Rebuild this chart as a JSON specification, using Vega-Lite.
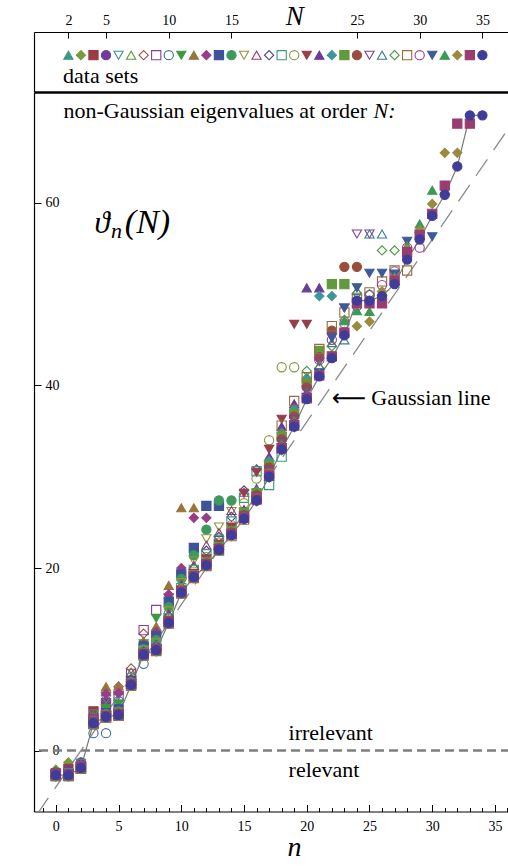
{
"$schema":"https://vega.github.io/schema/vega-lite/v6.json",
"background":"white",
"padding":{"left":32,"top":2,"right":0,"bottom":0},
"spacing":0,
"config":{"view":{"stroke":null},"axis":{"grid":false,"domainColor":"#000","tickColor":"#000","labelColor":"#000","titleColor":"#000","labelFont":"Liberation Serif","titleFont":"Liberation Serif","titleFontWeight":"normal","domainWidth":1.2,"tickWidth":1},"text":{"font":"Liberation Serif","color":"#000"}},
"datasets":{
"gauss":[{"n":-1.5,"v":-7},{"n":37,"v":70}],
"pts":[
{"N":2,"n":0,"v":-2.4},{"N":2,"n":1,"v":-2.4},
{"N":3,"n":0,"v":-2.1},{"N":3,"n":1,"v":-1.3},{"N":3,"n":2,"v":-1.3},
{"N":4,"n":0,"v":-2.5},{"N":4,"n":1,"v":-2.0},{"N":4,"n":2,"v":-2.0},{"N":4,"n":3,"v":4.3},
{"N":5,"n":0,"v":-2.4},{"N":5,"n":1,"v":-2.2},{"N":5,"n":2,"v":-1.3},{"N":5,"n":3,"v":3.6},{"N":5,"n":4,"v":5.3},
{"N":6,"n":0,"v":-2.5},{"N":6,"n":1,"v":-2.4},{"N":6,"n":2,"v":-1.4},{"N":6,"n":3,"v":4.0},{"N":6,"n":4,"v":5.6},{"N":6,"n":5,"v":6.0},
{"N":7,"n":0,"v":-2.5},{"N":7,"n":1,"v":-2.5},{"N":7,"n":2,"v":-1.5},{"N":7,"n":3,"v":3.8},{"N":7,"n":4,"v":6.8},{"N":7,"n":5,"v":6.6},{"N":7,"n":6,"v":8.6},
{"N":8,"n":0,"v":-2.6},{"N":8,"n":1,"v":-2.5},{"N":8,"n":2,"v":-1.6},{"N":8,"n":3,"v":3.6},{"N":8,"n":4,"v":5.5},{"N":8,"n":5,"v":7.0},{"N":8,"n":6,"v":9.0},{"N":8,"n":7,"v":12.8},
{"N":9,"n":0,"v":-2.6},{"N":9,"n":1,"v":-2.6},{"N":9,"n":2,"v":-1.7},{"N":9,"n":3,"v":3.4},{"N":9,"n":4,"v":5.2},{"N":9,"n":5,"v":6.0},{"N":9,"n":6,"v":8.4},{"N":9,"n":7,"v":13.2},{"N":9,"n":8,"v":15.4},
{"N":10,"n":0,"v":-2.6},{"N":10,"n":1,"v":-2.6},{"N":10,"n":2,"v":-1.8},{"N":10,"n":3,"v":1.9},{"N":10,"n":4,"v":1.9},{"N":10,"n":5,"v":5.4},{"N":10,"n":6,"v":8.0},{"N":10,"n":7,"v":9.5},{"N":10,"n":8,"v":13.0},{"N":10,"n":9,"v":15.0},
{"N":11,"n":0,"v":-2.7},{"N":11,"n":1,"v":-2.6},{"N":11,"n":2,"v":-1.8},{"N":11,"n":3,"v":3.2},{"N":11,"n":4,"v":4.6},{"N":11,"n":5,"v":5.1},{"N":11,"n":6,"v":7.7},{"N":11,"n":7,"v":11.7},{"N":11,"n":8,"v":14.5},{"N":11,"n":9,"v":16.7},{"N":11,"n":10,"v":18.5},
{"N":12,"n":0,"v":-2.7},{"N":12,"n":1,"v":-2.6},{"N":12,"n":2,"v":-1.8},{"N":12,"n":3,"v":3.2},{"N":12,"n":4,"v":7.0},{"N":12,"n":5,"v":7.1},{"N":12,"n":6,"v":8.0},{"N":12,"n":7,"v":12.0},{"N":12,"n":8,"v":13.6},{"N":12,"n":9,"v":18.1},{"N":12,"n":10,"v":26.6},{"N":12,"n":11,"v":26.6},
{"N":13,"n":0,"v":-2.7},{"N":13,"n":1,"v":-2.7},{"N":13,"n":2,"v":-1.8},{"N":13,"n":3,"v":3.1},{"N":13,"n":4,"v":6.2},{"N":13,"n":5,"v":6.3},{"N":13,"n":6,"v":7.8},{"N":13,"n":7,"v":11.6},{"N":13,"n":8,"v":13.0},{"N":13,"n":9,"v":17.1},{"N":13,"n":10,"v":20.0},{"N":13,"n":11,"v":25.5},{"N":13,"n":12,"v":25.5},
{"N":14,"n":0,"v":-2.6},{"N":14,"n":1,"v":-2.7},{"N":14,"n":2,"v":-1.9},{"N":14,"n":3,"v":3.1},{"N":14,"n":4,"v":4.1},{"N":14,"n":5,"v":4.5},{"N":14,"n":6,"v":7.6},{"N":14,"n":7,"v":11.4},{"N":14,"n":8,"v":12.5},{"N":14,"n":9,"v":16.3},{"N":14,"n":10,"v":19.3},{"N":14,"n":11,"v":22.2},{"N":14,"n":12,"v":26.8},{"N":14,"n":13,"v":26.8},
{"N":15,"n":0,"v":-2.8},{"N":15,"n":1,"v":-2.8},{"N":15,"n":2,"v":-1.9},{"N":15,"n":3,"v":3.1},{"N":15,"n":4,"v":4.0},{"N":15,"n":5,"v":4.3},{"N":15,"n":6,"v":7.5},{"N":15,"n":7,"v":11.1},{"N":15,"n":8,"v":12.1},{"N":15,"n":9,"v":15.7},{"N":15,"n":10,"v":18.8},{"N":15,"n":11,"v":21.4},{"N":15,"n":12,"v":24.2},{"N":15,"n":13,"v":27.4},{"N":15,"n":14,"v":27.4},
{"N":16,"n":0,"v":-2.6},{"N":16,"n":1,"v":-2.6},{"N":16,"n":2,"v":-1.8},{"N":16,"n":3,"v":3.0},{"N":16,"n":4,"v":3.9},{"N":16,"n":5,"v":4.2},{"N":16,"n":6,"v":7.4},{"N":16,"n":7,"v":11.0},{"N":16,"n":8,"v":11.8},{"N":16,"n":9,"v":15.3},{"N":16,"n":10,"v":18.4},{"N":16,"n":11,"v":20.8},{"N":16,"n":12,"v":23.2},{"N":16,"n":13,"v":24.5},{"N":16,"n":14,"v":26.2},{"N":16,"n":15,"v":26.2},
{"N":17,"n":0,"v":-2.8},{"N":17,"n":1,"v":-2.8},{"N":17,"n":2,"v":-2.0},{"N":17,"n":3,"v":2.9},{"N":17,"n":4,"v":3.9},{"N":17,"n":5,"v":4.1},{"N":17,"n":6,"v":7.4},{"N":17,"n":7,"v":10.9},{"N":17,"n":8,"v":11.6},{"N":17,"n":9,"v":15.0},{"N":17,"n":10,"v":18.2},{"N":17,"n":11,"v":20.3},{"N":17,"n":12,"v":22.5},{"N":17,"n":13,"v":23.9},{"N":17,"n":14,"v":26.3},{"N":17,"n":15,"v":28.3},{"N":17,"n":16,"v":28.3},
{"N":18,"n":0,"v":-2.6},{"N":18,"n":1,"v":-2.6},{"N":18,"n":2,"v":-1.8},{"N":18,"n":3,"v":3.1},{"N":18,"n":4,"v":3.8},{"N":18,"n":5,"v":4.1},{"N":18,"n":6,"v":7.3},{"N":18,"n":7,"v":10.8},{"N":18,"n":8,"v":11.5},{"N":18,"n":9,"v":14.7},{"N":18,"n":10,"v":17.9},{"N":18,"n":11,"v":20.0},{"N":18,"n":12,"v":21.9},{"N":18,"n":13,"v":23.4},{"N":18,"n":14,"v":25.6},{"N":18,"n":15,"v":28.5},{"N":18,"n":16,"v":30.8},{"N":18,"n":17,"v":30.8},
{"N":19,"n":0,"v":-2.8},{"N":19,"n":1,"v":-2.8},{"N":19,"n":2,"v":-2.0},{"N":19,"n":3,"v":2.9},{"N":19,"n":4,"v":3.6},{"N":19,"n":5,"v":3.8},{"N":19,"n":6,"v":7.3},{"N":19,"n":7,"v":10.7},{"N":19,"n":8,"v":11.4},{"N":19,"n":9,"v":14.5},{"N":19,"n":10,"v":17.8},{"N":19,"n":11,"v":19.8},{"N":19,"n":12,"v":21.5},{"N":19,"n":13,"v":23.1},{"N":19,"n":14,"v":25.1},{"N":19,"n":15,"v":27.7},{"N":19,"n":16,"v":30.6},{"N":19,"n":17,"v":29.1},{"N":19,"n":18,"v":32.2},
{"N":20,"n":0,"v":-2.6},{"N":20,"n":1,"v":-2.6},{"N":20,"n":2,"v":-1.8},{"N":20,"n":3,"v":3.1},{"N":20,"n":4,"v":3.8},{"N":20,"n":5,"v":4.0},{"N":20,"n":6,"v":7.3},{"N":20,"n":7,"v":10.6},{"N":20,"n":8,"v":11.2},{"N":20,"n":9,"v":14.4},{"N":20,"n":10,"v":17.7},{"N":20,"n":11,"v":19.6},{"N":20,"n":12,"v":21.2},{"N":20,"n":13,"v":22.8},{"N":20,"n":14,"v":24.7},{"N":20,"n":15,"v":27.1},{"N":20,"n":16,"v":29.8},{"N":20,"n":17,"v":34.0},{"N":20,"n":18,"v":42.0},{"N":20,"n":19,"v":42.0},
{"N":21,"n":0,"v":-2.8},{"N":21,"n":1,"v":-2.8},{"N":21,"n":2,"v":-2.0},{"N":21,"n":3,"v":2.9},{"N":21,"n":4,"v":3.6},{"N":21,"n":5,"v":3.8},{"N":21,"n":6,"v":7.1},{"N":21,"n":7,"v":10.4},{"N":21,"n":8,"v":11.2},{"N":21,"n":9,"v":14.3},{"N":21,"n":10,"v":17.6},{"N":21,"n":11,"v":19.4},{"N":21,"n":12,"v":21.0},{"N":21,"n":13,"v":22.6},{"N":21,"n":14,"v":24.5},{"N":21,"n":15,"v":28.2},{"N":21,"n":16,"v":30.5},{"N":21,"n":17,"v":33.0},{"N":21,"n":18,"v":36.3},{"N":21,"n":19,"v":46.7},{"N":21,"n":20,"v":46.7},
{"N":22,"n":0,"v":-2.6},{"N":22,"n":1,"v":-2.6},{"N":22,"n":2,"v":-1.8},{"N":22,"n":3,"v":3.1},{"N":22,"n":4,"v":3.8},{"N":22,"n":5,"v":4.0},{"N":22,"n":6,"v":7.3},{"N":22,"n":7,"v":10.6},{"N":22,"n":8,"v":11.1},{"N":22,"n":9,"v":14.2},{"N":22,"n":10,"v":17.5},{"N":22,"n":11,"v":19.3},{"N":22,"n":12,"v":20.8},{"N":22,"n":13,"v":22.5},{"N":22,"n":14,"v":24.2},{"N":22,"n":15,"v":26.4},{"N":22,"n":16,"v":28.7},{"N":22,"n":17,"v":32.2},{"N":22,"n":18,"v":35.5},{"N":22,"n":19,"v":38.0},{"N":22,"n":20,"v":50.7},{"N":22,"n":21,"v":50.7},
{"N":23,"n":0,"v":-2.8},{"N":23,"n":1,"v":-2.8},{"N":23,"n":2,"v":-2.0},{"N":23,"n":3,"v":2.9},{"N":23,"n":4,"v":3.6},{"N":23,"n":5,"v":3.8},{"N":23,"n":6,"v":7.1},{"N":23,"n":7,"v":10.4},{"N":23,"n":8,"v":10.9},{"N":23,"n":9,"v":13.9},{"N":23,"n":10,"v":17.4},{"N":23,"n":11,"v":19.2},{"N":23,"n":12,"v":20.7},{"N":23,"n":13,"v":22.3},{"N":23,"n":14,"v":24.1},{"N":23,"n":15,"v":26.1},{"N":23,"n":16,"v":28.4},{"N":23,"n":17,"v":31.7},{"N":23,"n":18,"v":34.8},{"N":23,"n":19,"v":37.4},{"N":23,"n":20,"v":40.8},{"N":23,"n":21,"v":49.8},{"N":23,"n":22,"v":49.8},
{"N":24,"n":0,"v":-2.6},{"N":24,"n":1,"v":-2.6},{"N":24,"n":2,"v":-1.8},{"N":24,"n":3,"v":3.1},{"N":24,"n":4,"v":3.8},{"N":24,"n":5,"v":4.0},{"N":24,"n":6,"v":7.3},{"N":24,"n":7,"v":10.6},{"N":24,"n":8,"v":11.1},{"N":24,"n":9,"v":14.1},{"N":24,"n":10,"v":17.4},{"N":24,"n":11,"v":19.2},{"N":24,"n":12,"v":20.6},{"N":24,"n":13,"v":22.3},{"N":24,"n":14,"v":24.0},{"N":24,"n":15,"v":26.0},{"N":24,"n":16,"v":28.2},{"N":24,"n":17,"v":31.3},{"N":24,"n":18,"v":34.4},{"N":24,"n":19,"v":36.9},{"N":24,"n":20,"v":40.2},{"N":24,"n":21,"v":43.8},{"N":24,"n":22,"v":51.1},{"N":24,"n":23,"v":51.1},
{"N":25,"n":0,"v":-2.8},{"N":25,"n":1,"v":-2.8},{"N":25,"n":2,"v":-2.0},{"N":25,"n":3,"v":2.9},{"N":25,"n":4,"v":3.6},{"N":25,"n":5,"v":3.8},{"N":25,"n":6,"v":7.1},{"N":25,"n":7,"v":10.4},{"N":25,"n":8,"v":10.9},{"N":25,"n":9,"v":13.9},{"N":25,"n":10,"v":17.2},{"N":25,"n":11,"v":18.9},{"N":25,"n":12,"v":20.5},{"N":25,"n":13,"v":22.2},{"N":25,"n":14,"v":23.9},{"N":25,"n":15,"v":25.8},{"N":25,"n":16,"v":28.0},{"N":25,"n":17,"v":31.0},{"N":25,"n":18,"v":34.1},{"N":25,"n":19,"v":36.6},{"N":25,"n":20,"v":39.8},{"N":25,"n":21,"v":43.1},{"N":25,"n":22,"v":46.0},{"N":25,"n":23,"v":53.0},{"N":25,"n":24,"v":53.0},
{"N":26,"n":0,"v":-2.6},{"N":26,"n":1,"v":-2.6},{"N":26,"n":2,"v":-1.8},{"N":26,"n":3,"v":3.1},{"N":26,"n":4,"v":3.8},{"N":26,"n":5,"v":4.0},{"N":26,"n":6,"v":7.3},{"N":26,"n":7,"v":10.6},{"N":26,"n":8,"v":11.1},{"N":26,"n":9,"v":14.1},{"N":26,"n":10,"v":17.4},{"N":26,"n":11,"v":19.1},{"N":26,"n":12,"v":20.4},{"N":26,"n":13,"v":22.1},{"N":26,"n":14,"v":23.8},{"N":26,"n":15,"v":25.7},{"N":26,"n":16,"v":27.8},{"N":26,"n":17,"v":30.7},{"N":26,"n":18,"v":33.8},{"N":26,"n":19,"v":36.3},{"N":26,"n":20,"v":39.5},{"N":26,"n":21,"v":42.6},{"N":26,"n":22,"v":45.3},{"N":26,"n":23,"v":48.5},{"N":26,"n":24,"v":56.6},{"N":26,"n":25,"v":56.6},
{"N":27,"n":0,"v":-2.8},{"N":27,"n":1,"v":-2.8},{"N":27,"n":2,"v":-2.0},{"N":27,"n":3,"v":2.9},{"N":27,"n":4,"v":3.6},{"N":27,"n":5,"v":3.8},{"N":27,"n":6,"v":7.1},{"N":27,"n":7,"v":10.4},{"N":27,"n":8,"v":10.9},{"N":27,"n":9,"v":13.9},{"N":27,"n":10,"v":17.2},{"N":27,"n":11,"v":18.9},{"N":27,"n":12,"v":20.2},{"N":27,"n":13,"v":21.9},{"N":27,"n":14,"v":23.7},{"N":27,"n":15,"v":25.6},{"N":27,"n":16,"v":27.7},{"N":27,"n":17,"v":30.5},{"N":27,"n":18,"v":33.6},{"N":27,"n":19,"v":36.1},{"N":27,"n":20,"v":39.2},{"N":27,"n":21,"v":42.2},{"N":27,"n":22,"v":44.7},{"N":27,"n":23,"v":45.0},{"N":27,"n":24,"v":50.4},{"N":27,"n":25,"v":56.6},{"N":27,"n":26,"v":56.6},
{"N":28,"n":0,"v":-2.6},{"N":28,"n":1,"v":-2.6},{"N":28,"n":2,"v":-1.8},{"N":28,"n":3,"v":3.1},{"N":28,"n":4,"v":3.8},{"N":28,"n":5,"v":4.0},{"N":28,"n":6,"v":7.3},{"N":28,"n":7,"v":10.6},{"N":28,"n":8,"v":11.1},{"N":28,"n":9,"v":14.1},{"N":28,"n":10,"v":17.4},{"N":28,"n":11,"v":19.1},{"N":28,"n":12,"v":20.4},{"N":28,"n":13,"v":22.1},{"N":28,"n":14,"v":23.7},{"N":28,"n":15,"v":25.6},{"N":28,"n":16,"v":27.6},{"N":28,"n":17,"v":30.4},{"N":28,"n":18,"v":33.4},{"N":28,"n":19,"v":36.0},{"N":28,"n":20,"v":41.6},{"N":28,"n":21,"v":41.9},{"N":28,"n":22,"v":44.3},{"N":28,"n":23,"v":47.2},{"N":28,"n":24,"v":50.1},{"N":28,"n":25,"v":50.0},{"N":28,"n":26,"v":54.8},{"N":28,"n":27,"v":54.8},
{"N":29,"n":0,"v":-2.8},{"N":29,"n":1,"v":-2.8},{"N":29,"n":2,"v":-2.0},{"N":29,"n":3,"v":2.9},{"N":29,"n":4,"v":3.6},{"N":29,"n":5,"v":3.8},{"N":29,"n":6,"v":7.1},{"N":29,"n":7,"v":10.4},{"N":29,"n":8,"v":10.9},{"N":29,"n":9,"v":13.9},{"N":29,"n":10,"v":17.2},{"N":29,"n":11,"v":18.9},{"N":29,"n":12,"v":20.2},{"N":29,"n":13,"v":21.9},{"N":29,"n":14,"v":23.5},{"N":29,"n":15,"v":25.3},{"N":29,"n":16,"v":27.6},{"N":29,"n":17,"v":30.3},{"N":29,"n":18,"v":35.6},{"N":29,"n":19,"v":38.3},{"N":29,"n":20,"v":40.9},{"N":29,"n":21,"v":44.0},{"N":29,"n":22,"v":46.5},{"N":29,"n":23,"v":48.0},{"N":29,"n":24,"v":49.6},{"N":29,"n":25,"v":50.2},{"N":29,"n":26,"v":51.4},{"N":29,"n":27,"v":52.6},{"N":29,"n":28,"v":52.6},
{"N":30,"n":0,"v":-2.6},{"N":30,"n":1,"v":-2.6},{"N":30,"n":2,"v":-1.8},{"N":30,"n":3,"v":3.1},{"N":30,"n":4,"v":3.8},{"N":30,"n":5,"v":4.0},{"N":30,"n":6,"v":7.3},{"N":30,"n":7,"v":10.6},{"N":30,"n":8,"v":11.1},{"N":30,"n":9,"v":14.1},{"N":30,"n":10,"v":17.4},{"N":30,"n":11,"v":19.1},{"N":30,"n":12,"v":20.4},{"N":30,"n":13,"v":22.1},{"N":30,"n":14,"v":23.7},{"N":30,"n":15,"v":25.5},{"N":30,"n":16,"v":27.5},{"N":30,"n":17,"v":30.2},{"N":30,"n":18,"v":33.2},{"N":30,"n":19,"v":35.8},{"N":30,"n":20,"v":38.8},{"N":30,"n":21,"v":42.8},{"N":30,"n":22,"v":45.0},{"N":30,"n":23,"v":46.8},{"N":30,"n":24,"v":48.7},{"N":30,"n":25,"v":49.9},{"N":30,"n":26,"v":51.0},{"N":30,"n":27,"v":52.5},{"N":30,"n":28,"v":55.1},{"N":30,"n":29,"v":55.1},
{"N":31,"n":0,"v":-2.8},{"N":31,"n":1,"v":-2.8},{"N":31,"n":2,"v":-2.0},{"N":31,"n":3,"v":2.9},{"N":31,"n":4,"v":3.6},{"N":31,"n":5,"v":3.8},{"N":31,"n":6,"v":7.1},{"N":31,"n":7,"v":10.4},{"N":31,"n":8,"v":10.9},{"N":31,"n":9,"v":13.9},{"N":31,"n":10,"v":17.2},{"N":31,"n":11,"v":18.9},{"N":31,"n":12,"v":20.2},{"N":31,"n":13,"v":21.9},{"N":31,"n":14,"v":23.5},{"N":31,"n":15,"v":25.3},{"N":31,"n":16,"v":27.3},{"N":31,"n":17,"v":29.9},{"N":31,"n":18,"v":33.2},{"N":31,"n":19,"v":35.7},{"N":31,"n":20,"v":38.7},{"N":31,"n":21,"v":41.4},{"N":31,"n":22,"v":45.2},{"N":31,"n":23,"v":48.5},{"N":31,"n":24,"v":50.7},{"N":31,"n":25,"v":52.3},{"N":31,"n":26,"v":52.3},{"N":31,"n":27,"v":52.2},{"N":31,"n":28,"v":55.8},{"N":31,"n":29,"v":56.3},{"N":31,"n":30,"v":56.3},
{"N":32,"n":0,"v":-2.6},{"N":32,"n":1,"v":-2.6},{"N":32,"n":2,"v":-1.8},{"N":32,"n":3,"v":3.1},{"N":32,"n":4,"v":3.8},{"N":32,"n":5,"v":4.0},{"N":32,"n":6,"v":7.3},{"N":32,"n":7,"v":10.6},{"N":32,"n":8,"v":11.1},{"N":32,"n":9,"v":14.1},{"N":32,"n":10,"v":17.4},{"N":32,"n":11,"v":19.1},{"N":32,"n":12,"v":20.4},{"N":32,"n":13,"v":22.1},{"N":32,"n":14,"v":23.7},{"N":32,"n":15,"v":25.5},{"N":32,"n":16,"v":27.5},{"N":32,"n":17,"v":30.1},{"N":32,"n":18,"v":33.1},{"N":32,"n":19,"v":35.6},{"N":32,"n":20,"v":38.7},{"N":32,"n":21,"v":41.3},{"N":32,"n":22,"v":43.4},{"N":32,"n":23,"v":47.1},{"N":32,"n":24,"v":48.2},{"N":32,"n":25,"v":48.1},{"N":32,"n":26,"v":50.3},{"N":32,"n":27,"v":51.9},{"N":32,"n":28,"v":55.3},{"N":32,"n":29,"v":57.7},{"N":32,"n":30,"v":61.4},{"N":32,"n":31,"v":61.4},
{"N":33,"n":0,"v":-2.8},{"N":33,"n":1,"v":-2.8},{"N":33,"n":2,"v":-2.0},{"N":33,"n":3,"v":2.9},{"N":33,"n":4,"v":3.6},{"N":33,"n":5,"v":3.8},{"N":33,"n":6,"v":7.1},{"N":33,"n":7,"v":10.4},{"N":33,"n":8,"v":10.9},{"N":33,"n":9,"v":13.9},{"N":33,"n":10,"v":17.2},{"N":33,"n":11,"v":18.9},{"N":33,"n":12,"v":20.2},{"N":33,"n":13,"v":21.9},{"N":33,"n":14,"v":23.5},{"N":33,"n":15,"v":25.3},{"N":33,"n":16,"v":27.3},{"N":33,"n":17,"v":29.9},{"N":33,"n":18,"v":32.9},{"N":33,"n":19,"v":35.4},{"N":33,"n":20,"v":38.6},{"N":33,"n":21,"v":41.2},{"N":33,"n":22,"v":43.3},{"N":33,"n":23,"v":45.9},{"N":33,"n":24,"v":46.5},{"N":33,"n":25,"v":47.0},{"N":33,"n":26,"v":50.3},{"N":33,"n":27,"v":51.7},{"N":33,"n":28,"v":54.9},{"N":33,"n":29,"v":57.0},{"N":33,"n":30,"v":59.9},{"N":33,"n":31,"v":65.5},{"N":33,"n":32,"v":65.5},
{"N":34,"n":0,"v":-2.6},{"N":34,"n":1,"v":-2.6},{"N":34,"n":2,"v":-1.8},{"N":34,"n":3,"v":3.1},{"N":34,"n":4,"v":3.8},{"N":34,"n":5,"v":4.0},{"N":34,"n":6,"v":7.3},{"N":34,"n":7,"v":10.6},{"N":34,"n":8,"v":11.1},{"N":34,"n":9,"v":14.1},{"N":34,"n":10,"v":17.4},{"N":34,"n":11,"v":19.1},{"N":34,"n":12,"v":20.4},{"N":34,"n":13,"v":22.1},{"N":34,"n":14,"v":23.7},{"N":34,"n":15,"v":25.5},{"N":34,"n":16,"v":27.5},{"N":34,"n":17,"v":30.1},{"N":34,"n":18,"v":33.1},{"N":34,"n":19,"v":35.6},{"N":34,"n":20,"v":38.6},{"N":34,"n":21,"v":41.1},{"N":34,"n":22,"v":43.2},{"N":34,"n":23,"v":45.8},{"N":34,"n":24,"v":49.0},{"N":34,"n":25,"v":49.0},{"N":34,"n":26,"v":49.0},{"N":34,"n":27,"v":51.5},{"N":34,"n":28,"v":54.6},{"N":34,"n":29,"v":56.5},{"N":34,"n":30,"v":58.8},{"N":34,"n":31,"v":61.9},{"N":34,"n":32,"v":68.7},{"N":34,"n":33,"v":68.7},
{"N":35,"n":0,"v":-2.7},{"N":35,"n":1,"v":-2.7},{"N":35,"n":2,"v":-1.9},{"N":35,"n":3,"v":3.0},{"N":35,"n":4,"v":3.7},{"N":35,"n":5,"v":3.9},{"N":35,"n":6,"v":7.2},{"N":35,"n":7,"v":10.5},{"N":35,"n":8,"v":11.0},{"N":35,"n":9,"v":14.0},{"N":35,"n":10,"v":17.3},{"N":35,"n":11,"v":19.0},{"N":35,"n":12,"v":20.3},{"N":35,"n":13,"v":22.0},{"N":35,"n":14,"v":23.6},{"N":35,"n":15,"v":25.4},{"N":35,"n":16,"v":27.4},{"N":35,"n":17,"v":30.0},{"N":35,"n":18,"v":33.0},{"N":35,"n":19,"v":35.5},{"N":35,"n":20,"v":38.5},{"N":35,"n":21,"v":41.0},{"N":35,"n":22,"v":43.0},{"N":35,"n":23,"v":45.5},{"N":35,"n":24,"v":49.3},{"N":35,"n":25,"v":49.3},{"N":35,"n":26,"v":49.8},{"N":35,"n":27,"v":51.1},{"N":35,"n":28,"v":53.8},{"N":35,"n":29,"v":56.0},{"N":35,"n":30,"v":58.6},{"N":35,"n":31,"v":60.9},{"N":35,"n":32,"v":64.0},{"N":35,"n":33,"v":69.6},{"N":35,"n":34,"v":69.6}
]},
"vconcat":[
{
"width":476,"height":59.5,
"layer":[
{"data":{"name":"pts"},"transform":[{"filter":"datum.n === 0"}],
"mark":{"type":"point","size":85,"strokeWidth":1.1,"opacity":1},
"encoding":{
"x":{"field":"N","type":"quantitative","scale":{"domain":[-0.74,37.2],"nice":false,"zero":false},
"axis":{"orient":"top","values":[2,5,10,15,20,25,30,35],"labelExpr":"datum.value === 20 ? 'N' : datum.label","labelFontSize":{"condition":{"test":"datum.value === 20","value":27},"value":14},"labelFontStyle":{"condition":{"test":"datum.value === 20","value":"italic"},"value":"normal"},"tickOpacity":{"condition":{"test":"datum.value === 20","value":0},"value":1},"tickSize":-6,"labelPadding":14,"labelBaseline":"alphabetic","labelFlush":false,"labelOverlap":false,"title":null}},
"y":{"datum":0.61,"type":"quantitative","scale":{"domain":[0,1],"nice":false},"axis":{"ticks":false,"labels":false,"title":null,"domain":true}},
"shape":{"field":"N","type":"nominal","legend":null,"scale":{"domain":[2,3,4,5,6,7,8,9,10,11,12,13,14,15,16,17,18,19,20,21,22,23,24,25,26,27,28,29,30,31,32,33,34,35],"range":["triangle-up","diamond","square","circle","triangle-down","triangle-up","diamond","square","circle","triangle-down","triangle-up","diamond","square","circle","triangle-down","triangle-up","diamond","square","circle","triangle-down","triangle-up","diamond","square","circle","triangle-down","triangle-up","diamond","square","circle","triangle-down","triangle-up","diamond","square","circle"]}},
"stroke":{"field":"N","type":"nominal","legend":null,"scale":{"domain":[2,3,4,5,6,7,8,9,10,11,12,13,14,15,16,17,18,19,20,21,22,23,24,25,26,27,28,29,30,31,32,33,34,35],"range":["#3d9984","#79993d","#993d43","#6d3d99","#3d9099","#5a993d","#99563d","#8c3d99","#3d7199","#3d993f","#99743d","#993d88","#3d5299","#3d995d","#99933d","#993d69","#473d99","#3d997c","#80993d","#993d4b","#663d99","#3d9799","#62993d","#994e3d","#843d99","#3d7899","#43993d","#996d3d","#993d90","#3d5a99","#3d9956","#998b3d","#993d71","#3f3d99"]}},
"fill":{"field":"N","type":"nominal","legend":null,"condition":{"test":"datum.N % 10 === 0 || datum.N % 10 >= 6","value":"transparent"},"scale":{"domain":[2,3,4,5,6,7,8,9,10,11,12,13,14,15,16,17,18,19,20,21,22,23,24,25,26,27,28,29,30,31,32,33,34,35],"range":["#3d9984","#79993d","#993d43","#6d3d99","#3d9099","#5a993d","#99563d","#8c3d99","#3d7199","#3d993f","#99743d","#993d88","#3d5299","#3d995d","#99933d","#993d69","#473d99","#3d997c","#80993d","#993d4b","#663d99","#3d9799","#62993d","#994e3d","#843d99","#3d7899","#43993d","#996d3d","#993d90","#3d5a99","#3d9956","#998b3d","#993d71","#3f3d99"]}}
}},
{"data":{"values":[{}]},
"mark":{"type":"text","text":"data sets","align":"left","baseline":"alphabetic","fontSize":22,"font":"Liberation Serif"},
"encoding":{"x":{"datum":1.58,"type":"quantitative"},"y":{"datum":0.14,"type":"quantitative"}}}
]
},
{
"width":476,"height":719.5,
"resolve":{"axis":{"x":"independent"}},
"layer":[
{"data":{"values":[{}]},
"mark":{"type":"rule","color":"#7f7f7f","strokeWidth":2.6,"strokeDash":[9,5]},
"encoding":{"y":{"datum":0,"type":"quantitative","scale":{"domain":[-6.68,72.16],"nice":false,"zero":false}}}},
{"data":{"name":"gauss"},
"mark":{"type":"line","color":"#8a8a8a","strokeWidth":1.3,"strokeDash":[20,11],"clip":true},
"encoding":{"x":{"field":"n","type":"quantitative","scale":{"domain":[-1.74,36.2],"nice":false,"zero":false},"axis":null},
"y":{"field":"v","type":"quantitative","scale":{"domain":[-6.68,72.16],"nice":false,"zero":false}}}},
{"data":{"name":"pts"},"transform":[{"filter":"datum.N === 35"}],
"mark":{"type":"line","color":"#7a7a7a","strokeWidth":1.2},
"encoding":{"x":{"field":"n","type":"quantitative","scale":{"domain":[-1.74,36.2],"nice":false,"zero":false},"axis":{"orient":"top","labels":false,"ticks":false,"title":null,"domain":true,"domainWidth":2.7}},
"y":{"field":"v","type":"quantitative","scale":{"domain":[-6.68,72.16],"nice":false,"zero":false}}}},
{"data":{"name":"pts"},
"mark":{"type":"point","size":85,"strokeWidth":1.1,"opacity":1},
"encoding":{
"x":{"field":"n","type":"quantitative","scale":{"domain":[-1.74,36.2],"nice":false,"zero":false},
"axis":{"orient":"bottom","values":[-1,0,1,2,3,4,5,6,7,8,9,10,11,12,13,14,15,16,17,18,19,20,21,22,23,24,25,26,27,28,29,30,31,32,33,34,35,36],"labelExpr":"datum.value % 5 === 0 ? datum.label : ''","tickSize":{"condition":{"test":"datum.value % 5 === 0","value":-7},"value":-4},"labelPadding":15,"labelFontSize":14,"labelFlush":false,"labelOverlap":false,"title":"n","titleFontStyle":"italic","titleFontSize":28,"titleX":260,"titlePadding":-3}},
"y":{"field":"v","type":"quantitative","scale":{"domain":[-6.68,72.16],"nice":false,"zero":false},
"axis":{"values":[0,20,40,60],"tickSize":-7,"labelPadding":-18,"labelAlign":"right","labelBaseline":"middle","labelFontSize":14,"title":null}},
"shape":{"field":"N","type":"nominal","legend":null,"scale":{"domain":[2,3,4,5,6,7,8,9,10,11,12,13,14,15,16,17,18,19,20,21,22,23,24,25,26,27,28,29,30,31,32,33,34,35],"range":["triangle-up","diamond","square","circle","triangle-down","triangle-up","diamond","square","circle","triangle-down","triangle-up","diamond","square","circle","triangle-down","triangle-up","diamond","square","circle","triangle-down","triangle-up","diamond","square","circle","triangle-down","triangle-up","diamond","square","circle","triangle-down","triangle-up","diamond","square","circle"]}},
"stroke":{"field":"N","type":"nominal","legend":null,"scale":{"domain":[2,3,4,5,6,7,8,9,10,11,12,13,14,15,16,17,18,19,20,21,22,23,24,25,26,27,28,29,30,31,32,33,34,35],"range":["#3d9984","#79993d","#993d43","#6d3d99","#3d9099","#5a993d","#99563d","#8c3d99","#3d7199","#3d993f","#99743d","#993d88","#3d5299","#3d995d","#99933d","#993d69","#473d99","#3d997c","#80993d","#993d4b","#663d99","#3d9799","#62993d","#994e3d","#843d99","#3d7899","#43993d","#996d3d","#993d90","#3d5a99","#3d9956","#998b3d","#993d71","#3f3d99"]}},
"fill":{"field":"N","type":"nominal","legend":null,"condition":{"test":"datum.N % 10 === 0 || datum.N % 10 >= 6","value":"transparent"},"scale":{"domain":[2,3,4,5,6,7,8,9,10,11,12,13,14,15,16,17,18,19,20,21,22,23,24,25,26,27,28,29,30,31,32,33,34,35],"range":["#3d9984","#79993d","#993d43","#6d3d99","#3d9099","#5a993d","#99563d","#8c3d99","#3d7199","#3d993f","#99743d","#993d88","#3d5299","#3d995d","#99933d","#993d69","#473d99","#3d997c","#80993d","#993d4b","#663d99","#3d9799","#62993d","#994e3d","#843d99","#3d7899","#43993d","#996d3d","#993d90","#3d5a99","#3d9956","#998b3d","#993d71","#3f3d99"]}}
}},
{"data":{"values":[{}]},"mark":{"type":"text","text":"non-Gaussian eigenvalues at order","align":"left","baseline":"alphabetic","fontSize":22},
"encoding":{"x":{"datum":0.61,"type":"quantitative","axis":null},"y":{"datum":69.26,"type":"quantitative"}}},
{"data":{"values":[{}]},"mark":{"type":"text","text":"N:","align":"left","baseline":"alphabetic","fontSize":22,"fontStyle":"italic"},
"encoding":{"x":{"datum":25.33,"type":"quantitative","axis":null},"y":{"datum":69.26,"type":"quantitative"}}},
{"data":{"values":[{}]},"mark":{"type":"text","text":"ϑ","align":"left","baseline":"alphabetic","fontSize":31,"fontStyle":"italic"},
"encoding":{"x":{"datum":3.08,"type":"quantitative","axis":null},"y":{"datum":56.66,"type":"quantitative"}}},
{"data":{"values":[{}]},"mark":{"type":"text","text":"n","align":"left","baseline":"alphabetic","fontSize":22,"fontStyle":"italic"},
"encoding":{"x":{"datum":4.4,"type":"quantitative","axis":null},"y":{"datum":56.2,"type":"quantitative"}}},
{"data":{"values":[{}]},"mark":{"type":"text","text":"(N)","align":"left","baseline":"alphabetic","fontSize":34,"fontStyle":"italic"},
"encoding":{"x":{"datum":5.5,"type":"quantitative","axis":null},"y":{"datum":56.66,"type":"quantitative"}}},
{"data":{"values":[{}]},"mark":{"type":"text","text":"⟵","align":"center","baseline":"middle","fontSize":24,"font":"DejaVu Sans"},
"encoding":{"x":{"datum":23.37,"type":"quantitative","axis":null},"y":{"datum":38.47,"type":"quantitative"}}},
{"data":{"values":[{}]},"mark":{"type":"text","text":"Gaussian line","align":"left","baseline":"alphabetic","fontSize":22},
"encoding":{"x":{"datum":25.15,"type":"quantitative","axis":null},"y":{"datum":37.9,"type":"quantitative"}}},
{"data":{"values":[{}]},"mark":{"type":"text","text":"irrelevant","align":"left","baseline":"alphabetic","fontSize":22},
"encoding":{"x":{"datum":18.55,"type":"quantitative","axis":null},"y":{"datum":1.2,"type":"quantitative"}}},
{"data":{"values":[{}]},"mark":{"type":"text","text":"relevant","align":"left","baseline":"alphabetic","fontSize":22},
"encoding":{"x":{"datum":18.55,"type":"quantitative","axis":null},"y":{"datum":-2.9,"type":"quantitative"}}}
]
}
]
}
